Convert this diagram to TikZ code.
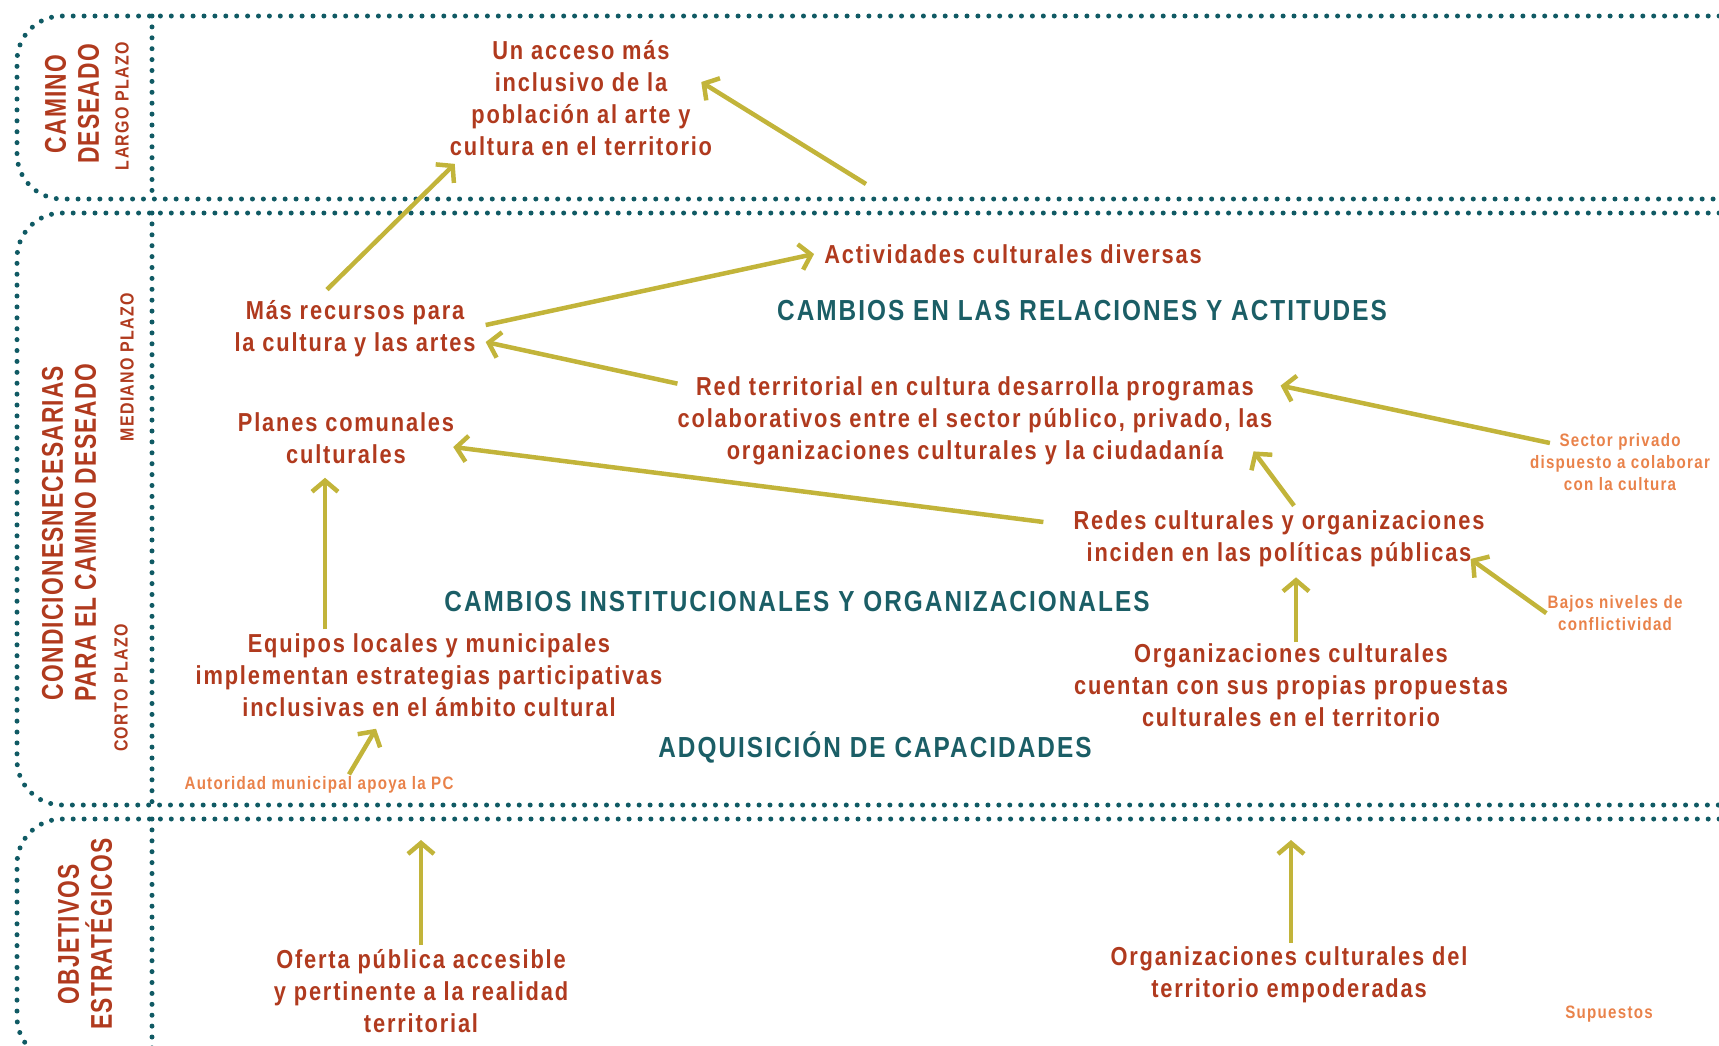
\documentclass[tikz,border=0pt]{standalone}
\usepackage{fontspec}
\setmainfont{Liberation Sans}[FakeStretch=0.84,LetterSpace=7]
\newfontfamily\angosta{Liberation Sans}[FakeStretch=0.76,LetterSpace=4]
\usetikzlibrary{arrows.meta,calc}
\definecolor{puntos}{RGB}{16,90,100}
\definecolor{rojo}{RGB}{176,58,30}
\definecolor{naranja}{RGB}{233,130,74}
\definecolor{oliva}{RGB}{194,180,58}
\definecolor{tealtxt}{RGB}{27,94,102}

\begin{document}
\begin{tikzpicture}[x=1pt,y=-1pt,
  dotline/.style={draw=puntos, line width=5pt, line cap=round, dash pattern=on 0pt off 10.9pt},
  txt/.style={text=rojo, font=\bfseries\fontsize{26}{32}\selectfont, align=center, inner sep=0pt},
  supu/.style={text=naranja, font=\bfseries\fontsize{18}{22}\selectfont, align=center, inner sep=0pt},
  cambio/.style={text=tealtxt, font=\bfseries\fontsize{29}{36}\selectfont, inner sep=0pt},
  etapa/.style={text=rojo, font=\angosta\bfseries\fontsize{30}{33}\selectfont, align=center, inner sep=0pt, rotate=90},
  plazo/.style={text=rojo, font=\bfseries\fontsize{19}{22}\selectfont, inner sep=0pt, rotate=90},
  flecha/.style={draw=oliva, line width=4.5pt, -{Straight Barb[length=11pt,width=26pt]}}]
\useasboundingbox (0,0) rectangle (1719,1045);

%% dotted frames
\draw[dotline, rounded corners=45pt] (1730,16) -- (17,16) -- (17,199) -- (1730,199);
\draw[dotline] (152,16) -- (152,199);
\draw[dotline, rounded corners=45pt] (1730,213) -- (17,213) -- (17,805) -- (1730,805);
\draw[dotline] (152,213) -- (152,805);
\draw[dotline, rounded corners=45pt] (1730,819) -- (17,819) -- (17,1062) -- (1730,1062);
\draw[dotline] (152,819) -- (152,1062);

%% row titles
\node[etapa] (camino) at (72,104) {CAMINO\\DESEADO};
\node[plazo] (largo) at (122,106) {LARGO PLAZO};
\node[etapa] (condic) at (69,533) {CONDICIONESNECESARIAS\\PARA EL CAMINO DESEADO};
\node[plazo] (mediano) at (127,367) {MEDIANO PLAZO};
\node[plazo] (corto) at (121,688) {CORTO PLAZO};
\node[etapa] (objet) at (85,934) {OBJETIVOS\\ESTRATÉGICOS};

%% results
\node[txt] (acceso) at (581,98) {Un acceso más\\inclusivo de la\\población al arte y\\cultura en el territorio};
\node[txt] (mas) at (355,329) {Más recursos para\\la cultura y las artes};
\node[txt] (activ) at (1013,254) {Actividades culturales diversas};
\node[cambio] (relac) at (1082,311) {CAMBIOS EN LAS RELACIONES Y ACTITUDES};
\node[txt] (red) at (975,421) {Red territorial en cultura desarrolla programas\\colaborativos entre el sector público, privado, las\\organizaciones culturales y la ciudadanía};
\node[txt] (planes) at (346,438) {Planes comunales\\culturales};
\node[supu] (sector) at (1620,462) {Sector privado\\dispuesto a colaborar\\con la cultura};
\node[txt] (redes) at (1279,539) {Redes culturales y organizaciones\\inciden en las políticas públicas};
\node[supu] (bajos) at (1615,613) {Bajos niveles de\\conflictividad};
\node[cambio] (instit) at (797,602) {CAMBIOS INSTITUCIONALES Y ORGANIZACIONALES};
\node[txt] (equipos) at (429,675) {Equipos locales y municipales\\implementan estrategias participativas\\inclusivas en el ámbito cultural};
\node[txt] (orgc) at (1291,685) {Organizaciones culturales\\cuentan con sus propias propuestas\\culturales en el territorio};
\node[cambio] (capac) at (875,747) {ADQUISICIÓN DE CAPACIDADES};
\node[supu] (autor) at (319,785) {Autoridad municipal apoya la PC};
\node[txt] (oferta) at (421,991) {Oferta pública accesible\\y pertinente a la realidad\\territorial};
\node[txt] (orgt) at (1289,975) {Organizaciones culturales del\\territorio empoderadas};
\node[supu] (supuestos) at (1609,1014) {Supuestos};

\coordinate (desde) at (866,184);
\coordinate (hacia1) at (421,840);
\coordinate (hacia2) at (1291,840);

%% arrows
\draw[flecha] ($(mas.north)+(-28,-11)$) -- ($(acceso.south west)+(5,8)$);
\draw[flecha] (desde) -- ($(acceso.east)+(-11,-16)$);
\draw[flecha] ($(mas.east)+(10,-4)$) -- ($(activ.west)+(-10,0)$);
\draw[flecha] ($(red.north west)+(0,7)$) -- ($(mas.east)+(10,13)$);
\draw[flecha] ($(sector.west)+(20,-19)$) -- ($(red.north east)+(8,9)$);
\draw[flecha] ($(redes.west)+(-30,-17)$) -- ($(planes.east)+(-1,9)$);
\draw[flecha] ($(redes.north)+(15,-5)$) -- ($(red.south east)+(-19,-14)$);
\draw[flecha] ($(bajos.north west)+(-1,18)$) -- ($(redes.east)+(-14,20)$);
\draw[flecha] ($(orgc.north)+(5,-1)$) -- ($(redes.south)+(17,10)$);
\draw[flecha] ($(equipos.north)+(-104,-4)$) -- ($(planes.south)+(-21,14)$);
\draw[flecha] ($(autor.north)+(30,-2)$) -- ($(equipos.south)+(-53,12)$);
\draw[flecha] ($(oferta.north)+(0,-4)$) -- (hacia1);
\draw[flecha] ($(orgt.north)+(2,-4)$) -- (hacia2);
\end{tikzpicture}
\end{document}
